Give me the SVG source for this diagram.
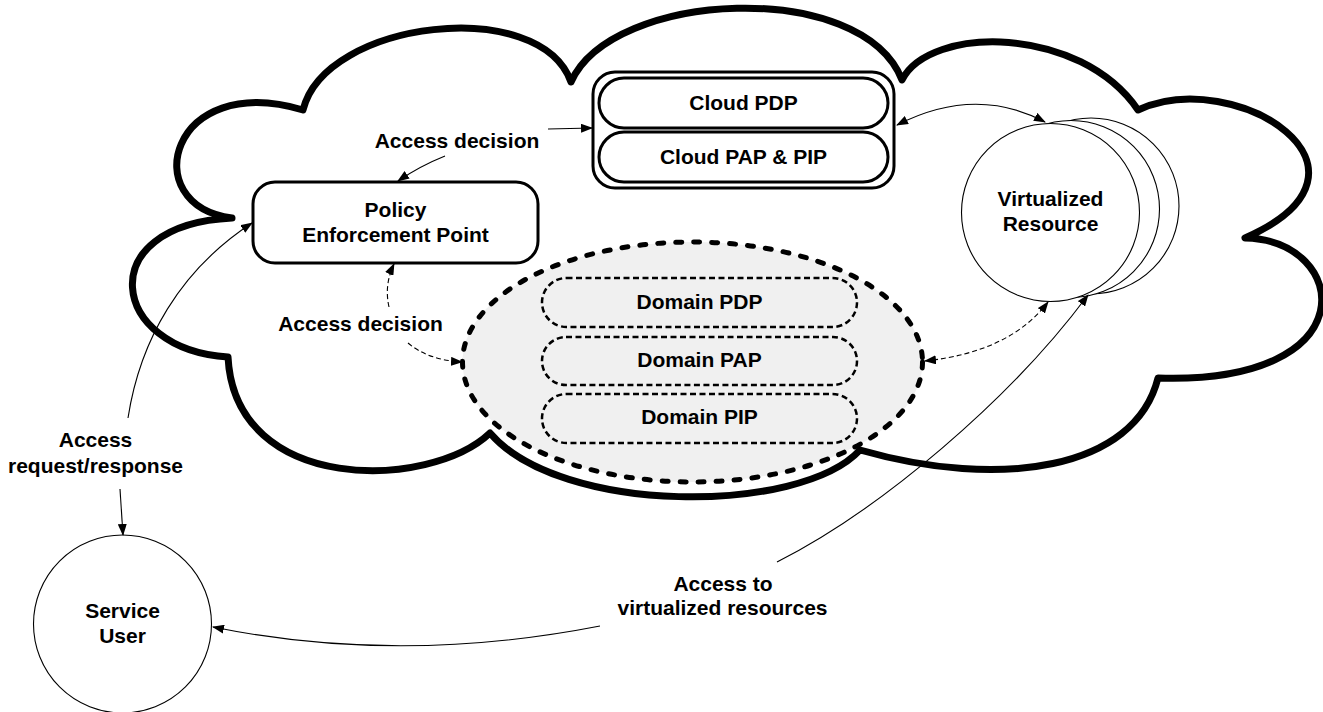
<svg xmlns="http://www.w3.org/2000/svg" width="1323" height="712" viewBox="0 0 1323 712">
<style>
text{font-family:"Liberation Sans",Arial,sans-serif;font-weight:bold;font-size:21px;fill:#000;text-anchor:middle}
.cloud{fill:#fff;stroke:#000;stroke-width:7;stroke-linejoin:round}
.box{fill:#fff;stroke:#000;stroke-width:3}
.circ{fill:#fff;stroke:#000;stroke-width:1.1}
.dom{fill:#f0f0f0;stroke:#000;stroke-width:5;stroke-dasharray:6 12;stroke-linecap:round}
.dpill{fill:none;stroke:#000;stroke-width:2.5;stroke-dasharray:6 3.5}
.edge{fill:none;stroke:#000;stroke-width:1.1}
.dash{stroke-dasharray:5 3}
</style>
<defs>
<marker id="ah" markerUnits="userSpaceOnUse" markerWidth="12" markerHeight="9" refX="11" refY="4.5" orient="auto-start-reverse" viewBox="0 0 12 9">
<path d="M0,0 L12,4.5 L0,9 z" fill="#000"/>
</marker>
</defs>
<rect width="1323" height="712" fill="#fff"/>
<g id="cloud">
<path class="cloud" d="M232,218 C135,205 170,70 303,110 C325,20 540,-5 571,82 C612,-10 862,-22 902,80 C930,25 1080,25 1138,110 C1235,65 1400,170 1245,238 C1350,240 1370,385 1158,378 C1135,470 1000,490 860,450 C800,515 560,515 490,433 C430,490 235,495 228,357 C110,350 90,225 232,218 Z"/>
</g>
<g id="cloud-pdp-pap-pip">
<rect class="box" x="593" y="72" width="301" height="116" rx="22"/>
<rect class="box" x="599" y="78" width="289" height="50" rx="25"/>
<rect class="box" x="599" y="132" width="289" height="50" rx="25"/>
<text x="743.5" y="110">Cloud PDP</text>
<text x="743.5" y="164">Cloud PAP &amp; PIP</text>
</g>
<g id="policy-enforcement-point">
<rect class="box" x="253" y="182" width="285" height="81" rx="22"/>
<text x="395.5" y="217">Policy</text>
<text x="395.5" y="242">Enforcement Point</text>
</g>
<g id="domain">
<ellipse class="dom" cx="692.5" cy="362" rx="230" ry="120"/>
<rect class="dpill" x="542" y="278" width="315" height="49" rx="24.5"/>
<rect class="dpill" x="542" y="337" width="315" height="48" rx="24"/>
<rect class="dpill" x="542" y="394" width="315" height="49" rx="24.5"/>
<text x="699.5" y="309">Domain PDP</text>
<text x="699.5" y="367">Domain PAP</text>
<text x="699.5" y="424">Domain PIP</text>
</g>
<g id="virtualized-resource">
<circle class="circ" cx="1091" cy="206" r="88"/>
<circle class="circ" cx="1071" cy="209" r="88.5"/>
<circle class="circ" cx="1050.5" cy="212.5" r="89"/>
<text x="1050.5" y="206">Virtualized</text>
<text x="1050.5" y="231">Resource</text>
</g>
<g id="service-user">
<circle class="circ" cx="122.5" cy="624" r="89"/>
<text x="122.5" y="618">Service</text>
<text x="122.5" y="643">User</text>
</g>
<g id="connectors">
<path class="edge" d="M548,129 L592,128" marker-end="url(#ah)"/>
<path class="edge" d="M445,156 Q420,166 398,181" marker-end="url(#ah)"/>
<path class="edge" d="M897,125 Q975,85 1045,122" marker-start="url(#ah)" marker-end="url(#ah)"/>
<path class="edge dash" d="M389,307 Q384,285 394,264" marker-end="url(#ah)"/>
<path class="edge dash" d="M408,343 Q428,360 462,362" marker-end="url(#ah)"/>
<path class="edge dash" d="M925,361 Q1010,352 1048,302" marker-start="url(#ah)" marker-end="url(#ah)"/>
<path class="edge" d="M128,418 C140,340 180,270 252,223" marker-end="url(#ah)"/>
<path class="edge" d="M120,489 L123,535" marker-end="url(#ah)"/>
<path class="edge" d="M777,562 C880,510 1010,400 1088,295" marker-end="url(#ah)"/>
<path class="edge" d="M600,626 Q400,665 213,627" marker-end="url(#ah)"/>
<text x="457" y="148">Access decision</text>
<text x="360.5" y="331">Access decision</text>
<text x="95.5" y="447">Access</text>
<text x="95.5" y="473">request/response</text>
<text x="723" y="591">Access to</text>
<text x="722.5" y="615">virtualized resources</text>
</g>
</svg>
